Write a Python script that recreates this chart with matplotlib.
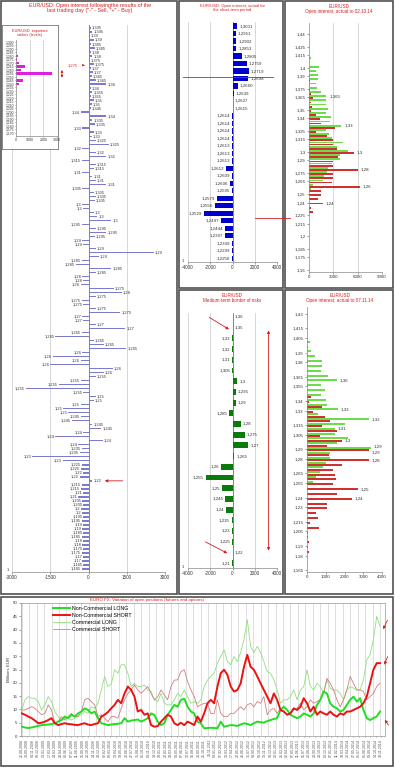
import numpy as np
import pandas as pd
import matplotlib
matplotlib.use("Agg")
import matplotlib.pyplot as plt
from matplotlib.patches import Rectangle

plt.rcParams['font.family'] = ['Liberation Sans', 'DejaVu Sans']
plt.rcParams['axes.linewidth'] = 0.5
for a in ('xtick', 'ytick'):
    plt.rcParams[a + '.major.width'] = 0.4
    plt.rcParams[a + '.major.size'] = 1.5
    plt.rcParams[a + '.major.pad'] = 1
    plt.rcParams[a + '.color'] = '#555555'

RED = '#D42020'
GRID = '#C8C8C8'
TXT = '#333333'

# ---------------- DATA ----------------
# Left: open interest after last trading day
main_labels = [
    "1,395", "1,395", "1,39", "1,39", "1,385", "1,385", "1,38", "1,38",
    "1,375", "1,375", "1,37", "1,37", "1,365", "1,365", "1,36", "1,36",
    "1,355", "1,355", "1,35", "1,35", "1,345", "1,34", "1,34", "1,335",
    "1,335", "1,33", "1,33", "1,33", "1,325", "1,325", "1,32", "1,32",
    "1,32", "1,315", "1,315", "1,315", "1,31", "1,31", "1,31", "1,31",
    "1,305", "1,305", "1,305", "1,305", "1,3", "1,3", "1,3", "1,3",
    "1,3", "1,295", "1,295", "1,295", "1,295", "1,29", "1,29", "1,29",
    "1,29", "1,29", "1,285", "1,285", "1,285", "1,285", "1,28", "1,28",
    "1,28", "1,275", "1,28", "1,275", "1,275", "1,275", "1,275", "1,275",
    "1,27", "1,27", "1,27", "1,27", "1,265", "1,265", "1,265", "1,265",
    "1,265", "1,26", "1,26", "1,26", "1,26", "1,26", "1,26", "1,255",
    "1,255", "1,255", "1,255", "1,255", "1,25", "1,25", "1,25", "1,25",
    "1,25", "1,245", "1,245", "1,245", "1,245", "1,24", "1,24", "1,24",
    "1,24", "1,235", "1,235", "1,23", "1,23", "1,225", "1,225", "1,22",
    "1,22", "1,22", "1,215", "1,215", "1,21", "1,21", "1,205", "1,205",
    "1,2", "1,2", "1,195", "1,195", "1,19", "1,19", "1,185", "1,185",
    "1,18", "1,18", "1,175", "1,175", "1,17", "1,17", "1,165", "1,165",
]
main_values = [
    80, 150, 60, 200, 100, 250, 80, 150,
    60, 200, 100, 180, 120, 300, 700, 100,
    150, 80, 200, 120, 80, -300, 700, 150,
    250, -250, 200, 120, 300, 800, -250, 300,
    700, -250, 300, 200, -250, 150, 300, 700,
    -250, 200, 300, 250, -250, -200, 200, 350,
    900, -250, 300, 700, 250, -250, -200, 300,
    2550, 400, -250, -500, 900, 300, -250, -200,
    -300, 1000, 1300, 300, -250, -200, 300, 1250,
    -250, -200, 300, 1450, -250, -1300, 200, 600,
    1480, -250, -1400, -300, -1500, 950, 600, 300,
    -300, -1170, -2450, -200, 300, 200, -300, -1000,
    -800, -300, -650, 150, 500, -200, -1300, 550,
    -400, -250, -350, -2200, -1000, -250, -300, -200,
    -350, 150, -250, -300, -200, -400, -250, -200,
    -300, -250, -200, -250, -200, -250, -200, -250,
    -200, -250, -200, -250, -200, -250, -200, -250,
]
main_xticks = [-3000, -1500, 0, 1500, 3000]

# Inset: important strikes
strike_labels = ["1,300", "1,295", "1,290", "1,285", "1,280", "1,275", "1,270",
                 "1,265", "1,260", "1,255", "1,250", "1,245", "1,240", "1,235",
                 "1,230", "1,225", "1,220", "1,215", "1,210", "1,205", "1,200",
                 "1,195", "1,190", "1,185", "1,180", "1,175", "1,170"]
strike_values = [0, 0, 0, 0, 170, 100, 240, 660, 340, 2650, 0, 530, 240, 0,
                 0, 0, 0, 0, 0, 0, 0, 0, 0, 0, 0, 0, 0]

# Short-term open interest
st_labels = ["1,3001", "1,2951", "1,2902", "1,2853", "1,2805", "1,2759", "1,2719",
             "1,2698", "1,2660", "1,2639", "1,2627", "1,2615", "1,2614", "1,2614",
             "1,2614", "1,2614", "1,2613", "1,2613", "1,2613", "1,2612", "1,2609",
             "1,2606", "1,2595", "1,2579", "1,2556", "1,2529", "1,2497", "1,2444",
             "1,2397", "1,2349", "1,2299", "1,2250"]
st_values = [420, 270, 330, 330, 820, 1270, 1480, 1420, 480, 90, 30, 20,
             -20, -20, -20, -20, -20, -20, -20, -570, -60, -180, -30, -1390,
             -1600, -2550, -1030, -640, -640, -60, -30, -30]

# Open interest actual to 02.10.14
p3_levels = [1.41, 1.405, 1.40, 1.395, 1.39, 1.385, 1.38, 1.375, 1.37, 1.365,
             1.36, 1.355, 1.35, 1.345, 1.34, 1.335, 1.33, 1.325, 1.32, 1.315,
             1.31, 1.305, 1.30, 1.295, 1.29, 1.285, 1.28, 1.275, 1.27, 1.265,
             1.26, 1.255, 1.25, 1.245, 1.24, 1.235, 1.23]
p3_green = [300, 150, 1250, 900, 1100, 1100, 900, 1000, 1500, 2150,
            2150, 2150, 2350, 2100, 2700, 2600, 4000, 2150, 2500, 2800,
            4200, 3500, 4850, 3800, 3800, 2800, 2300, 2200, 1800, 1700,
            500, 300, 0, 0, 0, 0, 0]
p3_red = [0, 0, 0, 0, 0, 100, 150, 100, 300, 500,
          300, 400, 300, 900, 1300, 1500, 3200, 900, 2200, 3000,
          3000, 3500, 5500, 3600, 3000, 2900, 6000, 3000, 3000, 2800,
          6300, 1500, 1500, 1100, 1750, 300, 500]
p3_green_marked = [1.365, 1.33]
p3_red_marked = [1.30, 1.28, 1.26, 1.24]
p3_yticks = [1.44, 1.425, 1.415, 1.4, 1.39, 1.375, 1.365, 1.35, 1.34, 1.325,
             1.315, 1.3, 1.29, 1.275, 1.265, 1.25, 1.24, 1.225, 1.215, 1.2,
             1.185, 1.175, 1.16]

# Medium-term border of risks
mt_labels = ["1,36", "1,35", "1,33", "1,32", "1,31", "1,305", "1,3", "1,295",
             "1,29", "1,285", "1,28", "1,275", "1,27", "1,265", "1,26", "1,255",
             "1,25", "1,245", "1,24", "1,235", "1,23", "1,225", "1,22", "1,21"]
mt_values = [10, 10, -10, -10, -10, -10, 440, 300, 300, -300, 740, 1120,
             1410, 150, -1000, -2410, -940, -650, -590, -60, -30, -30, 30, -30]

# Open interest actual to 07.11.14
p5_levels = [1.40, 1.395, 1.39, 1.385, 1.38, 1.375, 1.37, 1.365, 1.36, 1.355,
             1.35, 1.345, 1.34, 1.335, 1.33, 1.325, 1.32, 1.315, 1.31, 1.305,
             1.30, 1.295, 1.29, 1.285, 1.28, 1.275, 1.27, 1.265, 1.26, 1.255,
             1.25, 1.245, 1.24, 1.235, 1.23, 1.225, 1.22, 1.215, 1.21, 1.205,
             1.20, 1.195, 1.19, 1.185]
p5_green = [150, 50, 230, 400, 820, 820, 770, 1130, 1580, 720,
            950, 770, 1000, 1040, 1670, 600, 3280, 2030, 1490, 1490,
            2200, 1580, 3400, 1220, 1200, 1000, 860, 700, 500, 300,
            0, 0, 0, 0, 0, 0, 0, 0, 0, 0, 0, 0, 0, 0]
p5_red = [0, 0, 0, 0, 0, 0, 0, 0, 0, 0,
          0, 230, 100, 820, 320, 950, 1220, 800, 1580, 680,
          1850, 1040, 3280, 1160, 3280, 1850, 1400, 1490, 1540, 1400,
          2700, 1580, 2390, 1040, 1080, 470, 590, 150, 650, 50,
          50, 80, 50, 80]
p5_green_marked = [1.36, 1.33, 1.32, 1.31, 1.29]
p5_red_marked = [1.30, 1.29, 1.28, 1.25, 1.24]
p5_yticks = [1.43, 1.415, 1.405, 1.39, 1.38, 1.365, 1.355, 1.34, 1.33, 1.315,
             1.305, 1.29, 1.28, 1.265, 1.255, 1.24, 1.23, 1.215, 1.205, 1.19,
             1.18, 1.165]

# EURO FX positions (millions EUR)
nc_long = [3.5, 3.2, 3.0, 3.2, 3.5, 3.8, 4.1, 4.2, 4.3, 4.5, 4.8, 5.4, 6, 7.3,
           6.7, 8, 7.3, 8.5, 9.2, 10.4, 9.8, 8.5, 9.2, 6.7, 4.8, 4.5, 4.1, 4.3,
           4.5, 4.6, 4.8, 6.7, 5.4, 5.8, 6, 6.2, 5.4, 6, 6.7, 8.5, 7.9, 5.4,
           4.1, 4.8, 8, 9.8, 11.7, 11, 13.6, 14, 11, 9.2, 8.5,
           5.4, 4.8, 2.9, 3, 3.1, 3, 2.9, 5.4, 3.5, 3.8, 4.1, 4, 3.8, 4.3,
           4.8, 4.5, 4.1, 4.8, 5.4, 5.2, 5, 5.6, 6, 6.4, 6.7, 9.8, 11, 9.8,
           8, 7.3, 6.7, 7.3, 8.5, 8, 7.3, 8.5, 11.7, 13.6, 16.7, 16, 12.3, 11,
           10.4, 9.2, 9.8, 11.7, 13.6, 14.8, 12.9, 14.2, 9.8, 6.7, 6, 6.7,
           7.3, 9.2]
nc_short = [8.5, 8, 7.3, 6.7, 5.8, 4.8, 5, 5.4, 6, 6.7, 4.8, 4.1, 4.5, 4.8,
            4.5, 4.4, 4.2, 4.1, 4.5, 4.8, 4.3, 4.1, 4.5, 4.8, 7.3, 8, 9, 10.4,
            11.7, 13.6, 12.3, 16, 18.6, 17.3, 14.8, 9.2, 9.8, 8, 8.5, 4.1, 3.5,
            3.7, 5.4, 6.7, 8, 7.3, 4.8, 4.1, 5, 4.1, 5.4, 4.8, 4.1,
            7.3, 5.4, 8.5, 12.3, 13.6, 12.3, 18.6, 23.6, 24.9, 23, 18.6, 16.7,
            17.3, 19.8, 26, 30.5, 26, 24.9, 22.4, 19.8, 17.3, 14.8, 12.3, 16,
            13.6, 9.8, 9.2, 8, 8.5, 10.4, 9.8, 11, 14.2, 12.3, 9.2, 11, 8, 9.2,
            8.5, 8, 9.2, 8, 7.3, 8.5, 8, 9.2, 9.2, 9.8, 10.4, 11, 12.3, 14.8,
            19.8, 24.9, 27.4, 27.4]
c_long = [9.8, 13.6, 14.8, 14.2, 14.2, 12.9, 9.8, 11.7, 14.8, 12.9, 9.2, 7.3,
          6, 6.7, 6.7, 6, 6.7, 7.3, 8, 9.2, 8.5, 11, 10.4, 12.3, 17.3, 22.4,
          18.6, 19.5, 24.9, 23.6, 26.8, 26.8, 23.6, 18.6, 19.8, 18.6, 18.6,
          19.2, 17.3, 16.7, 13.6, 12.9, 16, 12.3, 11.7, 11.7, 13.6, 16, 14.8,
          17.3, 14.8, 12.3, 12.9,
          12.3, 13.6, 18.6, 21, 22.4, 23.6, 27.4, 29.9, 32.4, 28, 26.8, 29.9,
          28, 31.4, 36.2, 43.7, 33.7, 31.4, 33.7, 31.4, 28, 24.2, 23.6, 21.1,
          17.3, 12.3, 13.6, 13.6, 14.8, 17.3, 13.6, 17.3, 18.6, 24.9, 18.6,
          17.3, 19.8, 18.6, 16, 21.1, 18, 17.3, 17.3, 16, 13.6, 17.3, 18.6,
          18, 17.3, 17.3, 21.1, 28.6, 30.5, 36.2, 45, 41.2]
c_short = [9.8, 9.8, 10.4, 11, 10.4, 9.2, 8, 8.5, 11.7, 9.8, 4.8, 5.4, 7.3, 6,
           7.3, 8.5, 7.3, 7.3, 9.2, 13.6, 14.2, 12.9, 11.7, 7.3, 8, 6.7, 5.4,
           7.3, 7.3, 6.7, 10.4, 13.6, 16, 17.3, 19.2, 17.3, 16, 17.3, 18.6, 16,
           13.6, 14.8, 17.3, 15.4, 13.6, 18.6, 21, 21.1, 24.2, 24.9, 20.5,
           17.3, 14.8,
           11, 11.7, 12.3, 12.3, 8.5, 8.5, 13.6, 8.5, 7.3, 7.3, 8.5, 8.5, 9.8,
           11, 9.8, 11.7, 12.3, 11, 13, 12.3, 14.8, 8, 9.8, 10.4, 8.5, 10.4,
           9.2, 8, 8.5, 9.8, 10.4, 12.3, 9.8, 11, 13.6, 12.3, 13, 13.6, 16,
           21.7, 19.8, 17.3, 13.6, 11, 13.6, 17.3, 22.4, 19.8, 17.3, 17.3,
           16.7, 13.6, 14.8, 16, 18.6, 19.8]
series_names = ["Non-Commercial LONG", "Non-Commercial SHORT",
                "Commercial LONG", "Commercial SHORT"]
first_date = "2008-08-26"
weeks_per_point = 3

# ---------------- FIGURE ----------------
W, H = 395, 768
fig = plt.figure(figsize=(W / 100, H / 100), dpi=100)


def ax_px(x0, y0, x1, y1, **kw):
    return fig.add_axes([x0 / W, 1 - y1 / H, (x1 - x0) / W, (y1 - y0) / H], **kw)


def ftext(x, y, s, **kw):
    fig.text(x / W, 1 - y / H, s, **kw)


def comma(v):
    return f"{v:g}".replace('.', ',')


bg = fig.add_axes([0, 0, 1, 1], zorder=-10)
bg.set_xlim(0, W)
bg.set_ylim(H, 0)
bg.axis('off')
for (x0, y0, x1, y1) in [(1, 1, 177, 594), (179, 1, 283, 288), (285, 1, 393, 288),
                         (179, 290, 283, 594), (285, 290, 393, 594), (1, 597, 393, 766)]:
    bg.add_patch(Rectangle((x0, y0), x1 - x0, y1 - y0, fill=False, ec='#505050', lw=1.2))


def style_cat(ax, xticks):
    for s in ('top', 'right', 'left'):
        ax.spines[s].set_visible(False)
    ax.spines['bottom'].set_color('#888888')
    ax.set_yticks([])
    ax.set_xticks(xticks)
    ax.set_xticklabels([str(t) for t in xticks], fontsize=3.3, color=TXT)
    for t in xticks:
        if t != 0:
            ax.axvline(t, color=GRID, lw=0.5, zorder=0)
    ax.axvline(0, color='#555555', lw=0.5, zorder=1)


def cat_labels(ax, vals, labels, pad, fs):
    for i, (v, l) in enumerate(zip(vals, labels)):
        if v >= 0:
            ax.text(v + pad, i, l, ha='left', va='center', fontsize=fs, color=TXT)
        else:
            ax.text(v - pad, i, l, ha='right', va='center', fontsize=fs, color=TXT)


# ---- Left main chart ----
ftext(90, 3, 'EUR/USD: Open interest followingthe results of the\n'
      'last trading day ("-" - Sell, "+" - Buy)', ha='center', va='top',
      fontsize=3.9, color=RED, linespacing=1.1)
ax1 = ax_px(12, 25, 165, 572)
idx = np.arange(len(main_values))
ax1.barh(idx, main_values, height=0.35, color='#7C7CCF', zorder=2)
ax1.set_xlim(-3000, 3000)
ax1.set_ylim(135.75, -0.75)
style_cat(ax1, main_xticks)
cat_labels(ax1, main_values, main_labels, 40, 2.9)
ax1.text(-0.03, 0.0, '1', transform=ax1.transAxes, fontsize=3, color=TXT,
         ha='center', va='bottom')
i22 = 113
ax1.annotate('', xy=(main_values[i22] + 380, i22), xytext=(1450, i22),
             arrowprops=dict(arrowstyle='-|>', color=RED, lw=0.6, mutation_scale=4))
ax1.annotate('1,275', xy=(-30, 9.3), xytext=(-420, 9.3), fontsize=2.9, color=RED,
             ha='right', va='center',
             arrowprops=dict(arrowstyle='-|>', color=RED, lw=0.5, mutation_scale=3))

# ---- Inset: important strikes ----
frame = ax_px(2, 25, 58, 149, zorder=5)
frame.set_xticks([])
frame.set_yticks([])
for s in frame.spines.values():
    s.set_color('#777777')
    s.set_linewidth(0.6)
frame.text(0.5, 0.97, 'EUR/USD: important\nstrikes (levels)', transform=frame.transAxes,
           ha='center', va='top', fontsize=2.8, color=RED, linespacing=1.1)
axi = ax_px(16, 40, 57, 136, zorder=6)
axi.patch.set_alpha(0)
si = np.arange(len(strike_values))
axi.barh(si, strike_values, height=0.75, color='#E020E0', zorder=2)
axi.set_xlim(0, 3000)
axi.set_ylim(26.86, -0.57)
axi.set_yticks(si)
axi.set_yticklabels(strike_labels, fontsize=2.4, color=TXT)
axi.set_xticks([0, 1000, 2000, 3000])
axi.set_xticklabels(['0', '1000', '2000', '3000'], fontsize=2.6, color=TXT)
axi.tick_params(length=1, pad=0.5)
for t in [1000, 2000, 3000]:
    axi.axvline(t, color=GRID, lw=0.5, zorder=0)
for s in ('top', 'right'):
    axi.spines[s].set_visible(False)
for s in ('left', 'bottom'):
    axi.spines[s].set_color('#888888')
axi.annotate('', xy=(1.12, 7.2), xytext=(1.12, 11.0), xycoords=('axes fraction', 'data'),
             textcoords=('axes fraction', 'data'), annotation_clip=False,
             arrowprops=dict(arrowstyle='<|-|>', color=RED, lw=0.6, mutation_scale=3))

# ---- Panel 2: short-term ----
ftext(232, 4, 'EUR/USD: Open interest, actual for\nthe short-term period', ha='center',
      va='top', fontsize=3.0, color=RED, linespacing=1.1)
ax2 = ax_px(188, 22, 277, 262)
ax2.barh(np.arange(len(st_values)), st_values, height=0.7, color='#0000CC', zorder=2)
ax2.set_xlim(-4000, 4000)
ax2.set_ylim(len(st_values) - 0.5, -0.55)
style_cat(ax2, [-4000, -2000, 0, 2000, 4000])
cat_labels(ax2, st_values, st_labels, 180, 3.2)
ax2.text(-0.07, 0.0, '1', transform=ax2.transAxes, fontsize=3, color=TXT)
ax2.axhline(6.75, xmin=-0.06, xmax=0.95, color=RED, lw=0.6, clip_on=False, zorder=3)
ax2.axhline(25.6, xmin=0.75, xmax=1.15, color=RED, lw=0.6, clip_on=False, zorder=3)


def level_panel(ax, levels, green, red, gmark, rmark, yticks, xlim, xticks, ylim, pad, grid):
    lv = np.array(levels)
    ax.barh(lv + 0.00125, green, height=0.0021, color='#6CDC4C', zorder=2)
    ax.barh(lv - 0.00125, red, height=0.0021, color='#D03030', zorder=2)
    both = set(gmark) & set(rmark)
    for L in gmark:
        v = green[levels.index(L)]
        ax.text(v + pad, L + 0.00125, comma(L), fontsize=3.2, color=TXT,
                va='bottom' if L in both else 'center')
    for L in rmark:
        v = red[levels.index(L)]
        ax.text(v + pad, L - 0.00125, comma(L), fontsize=3.2, color=TXT,
                va='top' if L in both else 'center')
    ax.set_xlim(*xlim)
    ax.set_ylim(*ylim)
    ax.set_yticks(yticks)
    ax.set_yticklabels([comma(t) for t in yticks], fontsize=3.2, color=TXT)
    ax.set_xticks(xticks)
    ax.set_xticklabels([str(t) for t in xticks], fontsize=3.2, color=TXT)
    if grid:
        for t in xticks[1:]:
            ax.axvline(t, color=GRID, lw=0.5, zorder=0)
    for s in ('top', 'right'):
        ax.spines[s].set_visible(False)
    for s in ('left', 'bottom'):
        ax.spines[s].set_color('#888888')


# ---- Panel 3 ----
ftext(339, 4, 'EUR/USD\nOpen interest, actual to 02.10.14', ha='center', va='top',
      fontsize=3.3, color=RED, linespacing=1.1)
ax3 = ax_px(309, 23, 382, 272)
level_panel(ax3, p3_levels, p3_green, p3_red, p3_green_marked, p3_red_marked,
            p3_yticks, (0, 9000), [0, 3000, 6000, 9000], (1.1576, 1.453), 350, True)

# ---- Panel 4 ----
ftext(232, 293, 'EUR/USD\nMedium-term border of risks', ha='center', va='top',
      fontsize=3.3, color=RED, linespacing=1.1)
ax4 = ax_px(188, 313, 277, 568)
ax4.barh(np.arange(len(mt_values)), mt_values, height=0.55, color='#0A7A0A', zorder=2)
ax4.set_xlim(-4000, 4000)
ax4.set_ylim(23.46, -0.37)
style_cat(ax4, [-4000, -2000, 0, 2000, 4000])
cat_labels(ax4, mt_values, mt_labels, 180, 3.2)
ax4.text(-0.07, 0.0, '1', transform=ax4.transAxes, fontsize=3, color=TXT)
ax4.annotate('', xy=(-100, 1.3), xytext=(-2300, -0.1), annotation_clip=False,
             arrowprops=dict(arrowstyle='-|>', color=RED, lw=0.6, mutation_scale=4))
ax4.annotate('', xy=(-250, 22.2), xytext=(-2650, 20.9), annotation_clip=False,
             arrowprops=dict(arrowstyle='-|>', color=RED, lw=0.6, mutation_scale=4))
ax4.annotate('', xy=(3240, 1.0), xytext=(3240, 22.1), annotation_clip=False,
             arrowprops=dict(arrowstyle='<|-|>', color=RED, lw=0.6, mutation_scale=4))

# ---- Panel 5 ----
ftext(340, 293, 'EUR/USD\nOpen interest, actual to 07.11.14', ha='center', va='top',
      fontsize=3.3, color=RED, linespacing=1.1)
ax5 = ax_px(307, 307, 382, 572)
level_panel(ax5, p5_levels, p5_green, p5_red, p5_green_marked, p5_red_marked,
            p5_yticks, (0, 4000), [0, 1000, 2000, 3000, 4000], (1.163, 1.4372), 150, False)

# ---- Bottom: EURO FX positions ----
ftext(147, 600, 'EURO FX: Variation of open positions (futures and options)', ha='center',
      va='center', fontsize=3.2, color=RED)
ax6 = ax_px(21, 603, 385, 736)
n = len(nc_long)
xs = np.arange(n)
ax6.plot(xs, c_long, color='#8EE07E', lw=0.6, label=series_names[2], zorder=3)
ax6.plot(xs, c_short, color='#D08080', lw=0.6, label=series_names[3], zorder=3)
ax6.plot(xs, nc_long, color='#22DD22', lw=1.4, label=series_names[0], zorder=4)
ax6.plot(xs, nc_short, color='#EE1111', lw=1.4, label=series_names[1], zorder=4)
ax6.set_xlim(-0.2, 109.5)
ax6.set_ylim(0, 50)
ax6.set_yticks(np.arange(0, 51, 5))
ax6.set_yticklabels([str(v) for v in range(0, 51, 5)], fontsize=3.2, color=TXT)
n_lab = 66
tick_pos = np.arange(n_lab) * 5 / weeks_per_point
tick_lab = pd.date_range(first_date, periods=n_lab, freq='35D').strftime('%d.%m.%Y')
keep = tick_pos <= 109.5
ax6.set_xticks(tick_pos[keep])
ax6.set_xticklabels(list(tick_lab[keep]), rotation=90, fontsize=2.6, color='#555555')
ax6.tick_params(axis='x', length=1, pad=1)
for gx in np.arange(0, 110, 2.25):
    ax6.axvline(gx, color='#D0D0D0', lw=0.5, zorder=0)
for s in ax6.spines.values():
    s.set_color('#999999')
ax6.set_ylabel('Millions EUR', fontsize=3.2, color=TXT, labelpad=1)
handles, labels = ax6.get_legend_handles_labels()
order = [2, 3, 0, 1]
ax6.legend([handles[i] for i in order], [labels[i] for i in order], loc='upper left',
           bbox_to_anchor=(0.08, 1.0), frameon=False, fontsize=3.8, handlelength=3.2,
           labelspacing=0.35, handletextpad=0.3, borderaxespad=0.2)
for (x0, y0, x1, y1) in [(110.6, 44.5, 108.6, 39.2), (110.6, 30.8, 109.0, 25.8),
                         (111.0, 3.2, 109.0, 7.0)]:
    ax6.annotate('', xy=(x1, y1), xytext=(x0, y0), annotation_clip=False,
                 arrowprops=dict(arrowstyle='-|>', color=RED, lw=0.6, mutation_scale=4))

fig.savefig('out.png', dpi=100)
